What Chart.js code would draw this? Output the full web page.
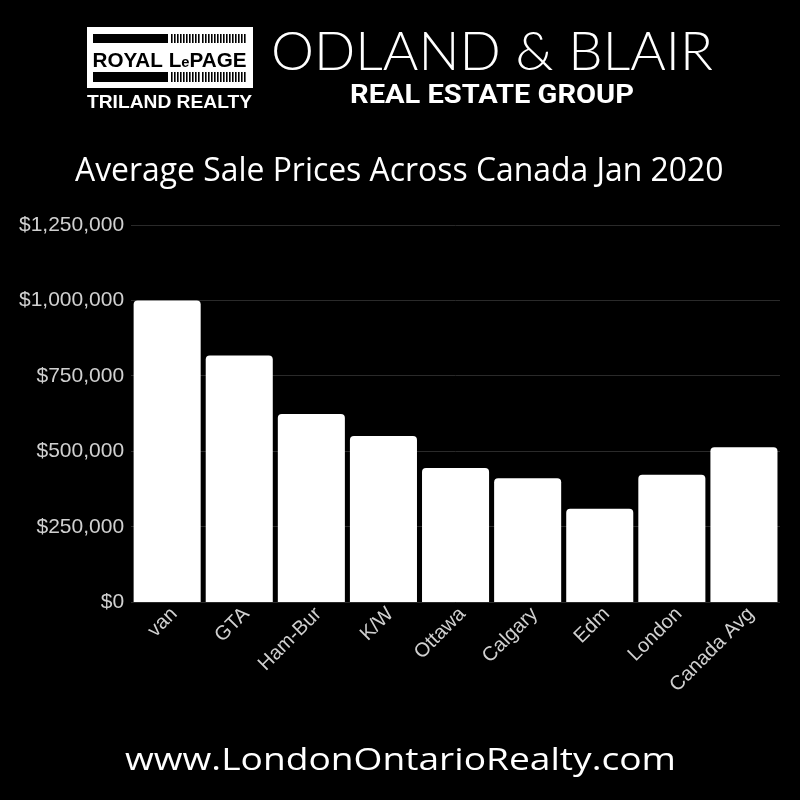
<!DOCTYPE html>
<html><head><meta charset="utf-8">
<script src="https://cdn.jsdelivr.net/npm/chart.js@4/dist/chart.umd.min.js"></script>
<style>
html,body{margin:0;padding:0;background:#000;width:800px;height:800px;overflow:hidden}
#box{position:absolute;left:0;top:0;width:800px;height:800px}
</style></head>
<body>
<div id="box"><canvas id="c" width="800" height="800"></canvas></div>
<script>
const categories = ["van", "GTA", "Ham-Bur", "K/W", "Ottawa", "Calgary", "Edm", "London", "Canada Avg"];
const avgPrices = [1000000, 818000, 624000, 551000, 445000, 411000, 310000, 423000, 514000];
const yTickValues = [0, 250000, 500000, 750000, 1000000, 1250000];
const chartTitle = "Average Sale Prices Across Canada Jan 2020";
const footerText = "www.LondonOntarioRealty.com";
const brandMain = "ODLAND & BLAIR";
const brandSub = "REAL ESTATE GROUP";
const logoBottom = "TRILAND REALTY";

function fitText(ctx, text, font, color, x0, x1, baseline) {
  ctx.save();
  ctx.font = font;
  ctx.fillStyle = color;
  ctx.textBaseline = 'alphabetic';
  ctx.textAlign = 'left';
  const w = ctx.measureText(text).width;
  ctx.translate(x0, baseline);
  ctx.scale((x1 - x0) / w, 1);
  ctx.fillText(text, 0, 0);
  ctx.restore();
}

const decor = {
  id: 'decor',
  beforeDraw(chart) {
    const ctx = chart.ctx;
    ctx.save();
    ctx.fillStyle = '#000';
    ctx.fillRect(0, 0, chart.width, chart.height);
    ctx.restore();
  },
  afterDraw(chart) {
    const ctx = chart.ctx;
    ctx.save();
    ctx.fillStyle = '#fff';
    ctx.fillRect(87, 27, 166, 61);
    ctx.fillStyle = '#000';
    ctx.fillRect(93, 34, 75, 9);
    ctx.fillRect(93, 72, 75, 10);
    for (let x = 171; x < 247; x += 3.05) {
      ctx.fillRect(Math.round(x), 34, 1.6, 9);
      ctx.fillRect(Math.round(x), 72, 1.6, 10);
    }
    ctx.restore();
    ctx.save();
    ctx.fillStyle = '#000';
    const parts = [["ROYAL L", 21], ["e", 15], ["PAGE", 21]];
    let tot = 0;
    parts.forEach(p => { ctx.font = 'bold ' + p[1] + 'px "Liberation Sans", Arial, sans-serif'; tot += ctx.measureText(p[0]).width; });
    const sx = (246.5 - 92.5) / tot;
    ctx.translate(92.5, 66.7);
    ctx.scale(sx, 1);
    let cx = 0;
    parts.forEach(p => { ctx.font = 'bold ' + p[1] + 'px "Liberation Sans", Arial, sans-serif'; ctx.fillText(p[0], cx, 0); cx += ctx.measureText(p[0]).width; });
    ctx.restore();
    fitText(ctx, logoBottom, 'bold 18.5px "Liberation Sans", Arial, sans-serif', '#fff', 87, 252, 108.3);
    fitText(ctx, brandMain, '300 53px Lato, "Open Sans", sans-serif', '#fff', 271, 713, 70);
    fitText(ctx, brandSub, 'bold 25px Roboto, "Liberation Sans", sans-serif', '#fff', 350, 634, 103);
    fitText(ctx, chartTitle, '32px "Open Sans", sans-serif', '#fff', 75, 723.5, 181);
    fitText(ctx, footerText, '30.5px "Open Sans", sans-serif', '#fff', 125, 676, 770);
  }
};

new Chart(document.getElementById('c'), {
  type: 'bar',
  data: {
    labels: categories,
    datasets: [{
      data: avgPrices,
      backgroundColor: '#ffffff',
      borderWidth: 0,
      borderRadius: { topLeft: 4, topRight: 4, bottomLeft: 0, bottomRight: 0 },
      borderSkipped: false,
      barPercentage: 0.93,
      categoryPercentage: 1.0
    }]
  },
  options: {
    responsive: false,
    animation: false,
    devicePixelRatio: 1,
    layout: { padding: { top: 225, left: 12, right: 20, bottom: 103 } },
    plugins: { legend: { display: false }, tooltip: { enabled: false }, title: { display: false } },
    scales: {
      x: {
        grid: { display: false, drawTicks: false },
        border: { display: false },
        ticks: {
          color: '#d0d0d0',
          font: { family: '"Liberation Sans", Arial, sans-serif', size: 20 },
          maxRotation: 45, minRotation: 45,
          labelOffset: 7,
          padding: 0
        }
      },
      y: {
        min: 0, max: 1250000,
        afterBuildTicks(scale) { scale.ticks = yTickValues.map(v => ({ value: v })); },
        grid: { color: '#2a2a2a', lineWidth: 1, drawTicks: false },
        border: { display: false },
        ticks: {
          color: '#d0d0d0',
          font: { family: '"Liberation Sans", Arial, sans-serif', size: 21 },
          padding: 7,
          callback: v => '$' + Number(v).toLocaleString('en-US')
        }
      }
    }
  },
  plugins: [decor]
});
</script>
</body></html>
